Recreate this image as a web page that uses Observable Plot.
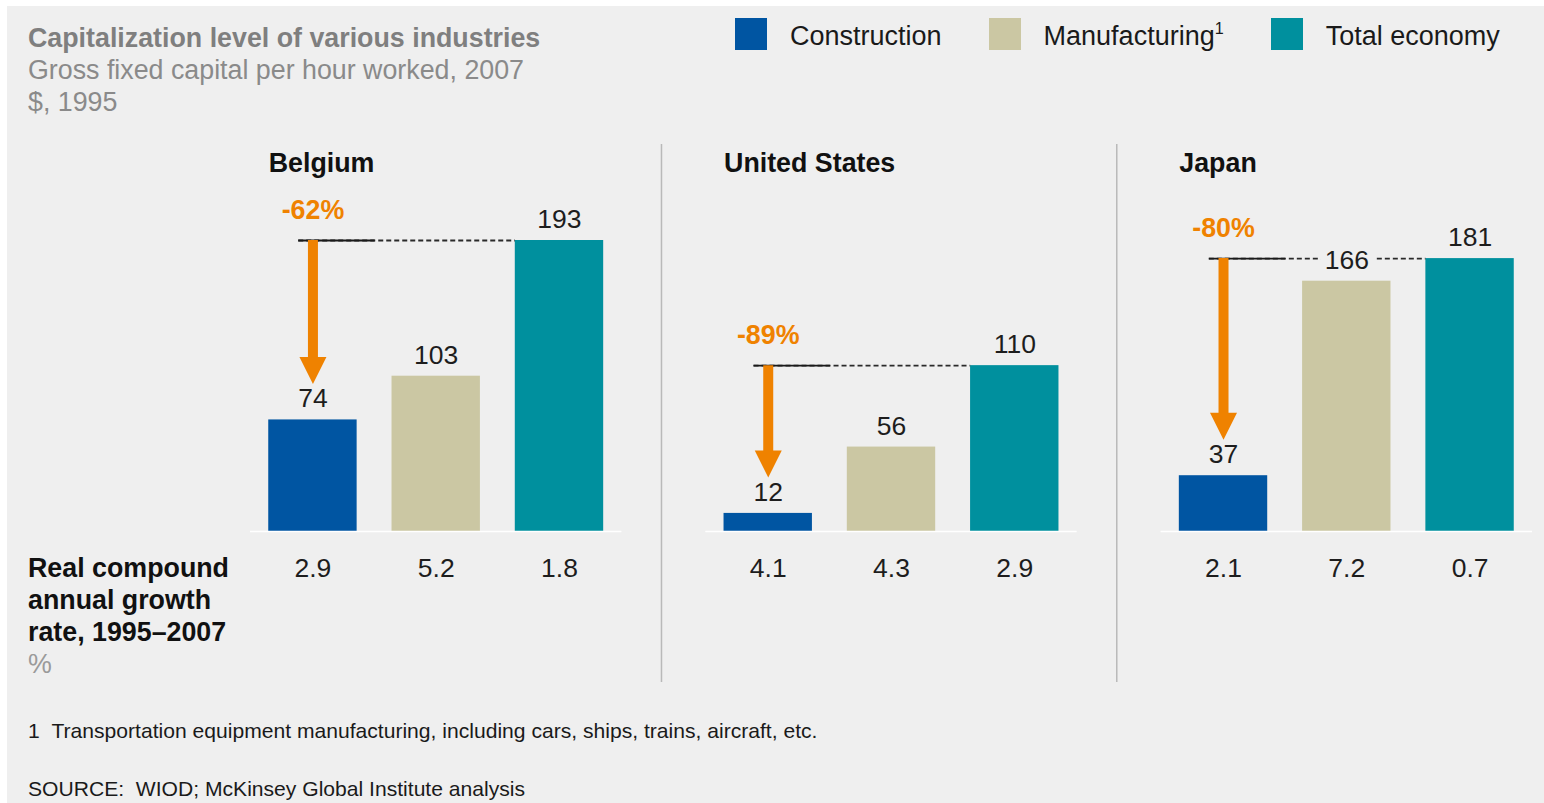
<!DOCTYPE html>
<html>
<head>
<meta charset="utf-8">
<script src="https://cdn.jsdelivr.net/npm/d3@7"></script>
<script src="https://cdn.jsdelivr.net/npm/@observablehq/plot@0.6"></script>
<style>
  html, body { margin: 0; padding: 0; background: #ffffff; overflow: hidden; }
  body { width: 1544px; height: 803px; position: relative; font-family: "Liberation Sans", Arial, sans-serif; }
  #bg { position: absolute; left: 7px; top: 6px; right: 0; bottom: 0; background: #efefef; }
  .abs { position: absolute; white-space: nowrap; }
  .title { left: 28px; top: 22px; font-size: 26.8px; line-height: 32px; color: #7f7f7f; }
  .title b { font-weight: bold; }
  .sub { color: #8a8a8a; }
  #legend { left: 735px; top: 18px; height: 32px; display: flex; align-items: center; font-size: 27px; color: #1a1a1a; }
  .sw { width: 32px; height: 32px; display: inline-block; margin-right: 23px; }
  .item { display: flex; align-items: center; margin-right: 47px; }
  .item .lab { position: relative; top: 2px; }
  #rowlabel { left: 28px; top: 552px; font-size: 26.8px; line-height: 32px; color: #111; font-weight: bold; }
  #rowlabel .pct { color: #9a9a9a; font-weight: normal; }
  .foot { left: 28px; font-size: 21.1px; line-height: 25px; color: #1a1a1a; }
  #chart { position: absolute; left: 0; top: 130px; }
  sup { font-size: 0.6em; vertical-align: 0.7em; line-height: 0; }
</style>
</head>
<body>
<div id="bg"></div>
<div class="abs title"><b>Capitalization level of various industries</b><br><span class="sub">Gross fixed capital per hour worked, 2007</span><br><span class="sub">$, 1995</span></div>
<div class="abs" id="legend"></div>
<div class="abs" id="rowlabel">Real compound<br>annual growth<br>rate, 1995–2007<br><span class="pct">%</span></div>
<div class="abs foot" style="top:718px">1&nbsp;&nbsp;Transportation equipment manufacturing, including cars, ships, trains, aircraft, etc.</div>
<div class="abs foot" style="top:776px">SOURCE:&nbsp;&nbsp;WIOD; McKinsey Global Institute analysis</div>
<div id="chart"></div>
<script>
// ---- data ----
const countries = ["Belgium", "United States", "Japan"];
const industries = ["Construction", "Manufacturing", "Total economy"];
const legendLabels = ["Construction", "Manufacturing<sup>1</sup>", "Total economy"];
const industryColors = ["#0055a2", "#cbc7a3", "#00909e"];
const belgiumCapital = [74, 103, 193];
const usCapital = [12, 56, 110];
const japanCapital = [37, 166, 181];
const belgiumGrowth = ["2.9", "5.2", "1.8"];
const usGrowth = ["4.1", "4.3", "2.9"];
const japanGrowth = ["2.1", "7.2", "0.7"];
const gapLabels = ["-62%", "-89%", "-80%"];

const capitalByCountry = [belgiumCapital, usCapital, japanCapital];
const growthByCountry = [belgiumGrowth, usGrowth, japanGrowth];

const rows = [];
countries.forEach((c, ci) => industries.forEach((ind, ii) => rows.push({
  country: c, industry: ind, value: capitalByCountry[ci][ii], growth: growthByCountry[ci][ii]
})));
const gaps = countries.map((c, ci) => ({
  country: c, low: capitalByCountry[ci][0], high: capitalByCountry[ci][2], label: gapLabels[ci]
}));

// legend
const legend = document.getElementById("legend");
industries.forEach((ind, i) => {
  const it = document.createElement("div");
  it.className = "item";
  it.innerHTML = `<span class="sw" style="background:${industryColors[i]}"></span><span class="lab">${legendLabels[i]}</span>`;
  legend.appendChild(it);
});

const bg = "#efefef";
const orange = "#ef8200";
const font = '"Liberation Sans", Arial, sans-serif';
const maxVal = d3.max(rows, d => d.value);

const downTriangle = {
  draw(ctx, size) {
    const r = Math.sqrt(size / Math.PI);
    ctx.moveTo(-r, -r);
    ctx.lineTo(r, -r);
    ctx.lineTo(0, r);
    ctx.closePath();
  }
};

const chart = Plot.plot({
  width: 1544,
  height: 570,
  marginLeft: 250,
  marginRight: 12,
  marginTop: 14,
  marginBottom: 18,
  style: {background: "transparent", fontFamily: font, fontSize: "26px", color: "#1d1d1d", overflow: "visible"},
  fx: {domain: countries, paddingInner: 84 / 456, paddingOuter: 0, axis: null, round: false, label: null},
  x: {domain: industries, paddingInner: 0.283, paddingOuter: 0.148, axis: null, round: false, label: null},
  y: {domain: [0, maxVal], range: [401, 110], axis: null},
  color: {domain: industries, range: industryColors},
  marks: [
    // panel separators
    Plot.ruleX(countries.slice(0, 2), {fx: d => d, x: () => "Total economy", dx: 102, stroke: "#b9b9b9", strokeWidth: 1.5}),
    // bars
    Plot.barY(rows, {fx: "country", x: "industry", y: "value", fill: "industry"}),
    // baseline
    Plot.ruleY([0], {stroke: "#ffffff", strokeWidth: 1.5}),
    // reference lines
    Plot.ruleY(gaps, {fx: "country", y: "high", x1: () => "Construction", x2: () => "Manufacturing",
      insetLeft: 30, insetRight: -35, stroke: "#2a2a2a", strokeWidth: 1.8, strokeDasharray: "5,3"}),
    Plot.ruleY(gaps, {fx: "country", y: "high", x1: () => "Construction", x2: () => "Construction",
      insetLeft: 30, insetRight: -18, stroke: "#1a1a1a", strokeWidth: 1.8}),
    // value labels
    Plot.text(rows, {fx: "country", x: "industry", y: "value", text: d => String(d.value), dy: -21,
      fontSize: 26.5, fill: "#1d1d1d", stroke: bg, strokeWidth: 16, lineAnchor: "middle"}),
    // growth row
    Plot.text(rows, {fx: "country", x: "industry", y: 0, text: "growth", dy: 37, fontSize: 26.5,
      fill: "#1d1d1d", lineAnchor: "middle"}),
    // headers
    Plot.text(countries, {fx: d => d, x: () => "Construction", frameAnchor: "top", text: d => d, dy: 19,
      dx: -44.2, textAnchor: "start", lineAnchor: "middle", fontWeight: "bold", fontSize: 26.8, fill: "#111"}),
    // arrows
    Plot.ruleX(gaps, {fx: "country", x: () => "Construction", y1: "high", y2: "low", insetBottom: 62,
      stroke: orange, strokeWidth: 10}),
    Plot.dot(gaps, {fx: "country", x: () => "Construction", y: "low", dy: -49.5, r: 13.5, symbol: downTriangle,
      fill: orange, stroke: "none"}),
    Plot.text(gaps, {fx: "country", x: () => "Construction", y: "high", text: "label", dy: -30,
      fill: orange, fontWeight: "bold", fontSize: 26.8, lineAnchor: "middle"})
  ]
});
document.getElementById("chart").appendChild(chart);
</script>
</body>
</html>
